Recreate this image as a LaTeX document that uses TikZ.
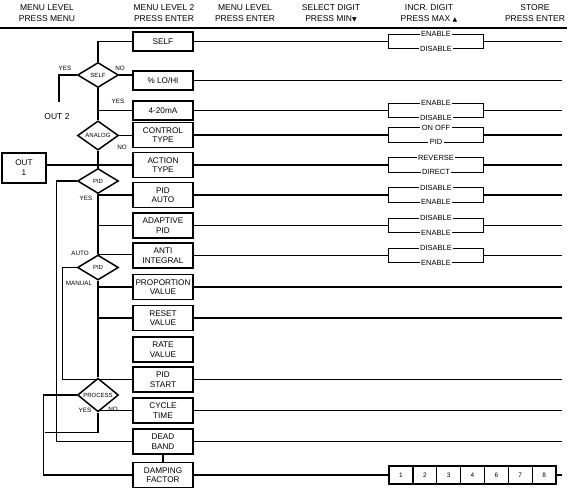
\documentclass[tikz,border=0pt]{standalone}
\usepackage{fontspec}
\setmainfont{Liberation Sans}
\newfontfamily\symfont{DejaVu Sans}
\usetikzlibrary{shapes.geometric}

\tikzset{
  menubox/.style={draw, line width=1.5pt, minimum width=60pt, minimum height=25pt, inner sep=0pt, align=center, font=\fontsize{8.2}{9.5}\selectfont},
  smallbox/.style={menubox, minimum height=19pt},
  decision/.style={draw, diamond, line width=1.5pt, minimum width=41pt, minimum height=25pt, inner sep=0pt, font=\fontsize{6}{6}\selectfont},
  head/.style={align=center, font=\fontsize{8.5}{11}\selectfont},
  tag/.style={inner sep=0pt, font=\fontsize{6.3}{7}\selectfont},
  option/.style={fill=white, inner sep=1.5pt, font=\fontsize{7.5}{8}\selectfont},
  choice/.style={minimum width=94pt, minimum height=14pt, inner sep=0pt},
  digit/.style={draw, line width=1.2pt, minimum width=23.9pt, minimum height=18pt, inner sep=0pt, font=\fontsize{6.5}{7}\selectfont},
  wire/.style={line width=1.25pt},
}

\begin{document}
\begin{tikzpicture}[x=1pt, y=-1pt]
\useasboundingbox (0,0) rectangle (568,494);

% column heads
\node[head] (h1) at (47,13.5) {MENU LEVEL\\PRESS MENU};
\node[head] (h2) at (164,13.5) {MENU LEVEL 2\\PRESS ENTER};
\node[head] (h3) at (245,13.5) {MENU LEVEL\\PRESS ENTER};
\node[head] (h4) at (331,13.5) {SELECT DIGIT\\PRESS MIN{\symfont\fontsize{6}{6}\selectfont ▼}};
\node[head] (h5) at (429,13.5) {INCR. DIGIT\\PRESS MAX {\symfont\fontsize{6}{6}\selectfont ▲}};
\node[head] (h6) at (535,13.5) {STORE\\PRESS ENTER};
\draw[line width=1.6pt] (0,28) -- (567,28);

% menu level 2
\node[smallbox] (self) at (163,41.5) {SELF};
\node[smallbox] (lohi) at (163,80.5) {\% LO/HI};
\node[smallbox] (ma) at (163,110.5) {4-20mA};
\node[menubox] (ctype) at (163,135) {CONTROL\\TYPE};
\node[menubox] (atype) at (163,165) {ACTION\\TYPE};
\node[menubox] (pauto) at (163,195) {PID\\AUTO};
\node[menubox] (adapt) at (163,225.5) {ADAPTIVE\\PID};
\node[menubox] (anti) at (163,255.5) {ANTI\\INTEGRAL};
\node[menubox] (prop) at (163,287) {PROPORTION\\VALUE};
\node[menubox] (reset) at (163,318) {RESET\\VALUE};
\node[menubox] (rate) at (163,349.5) {RATE\\VALUE};
\node[menubox] (start) at (163,379.5) {PID\\START};
\node[menubox] (cycle) at (163,410.5) {CYCLE\\TIME};
\node[menubox] (dead) at (163,441.5) {DEAD\\BAND};
\node[menubox] (damp) at (163,475) {DAMPING\\FACTOR};

% decisions
\node[decision] (selfd) at (98,75) {SELF};
\node[decision] (analog) at (98,135.5) {ANALOG};
\node[decision] (pid1) at (98,181) {PID};
\node[decision] (pid2) at (98,267.5) {PID};
\node[decision] (proc) at (98,395) {PROCESS};

\node[draw, line width=1.5pt, minimum width=44pt, minimum height=30pt, inner sep=0pt, align=center, font=\fontsize{8.2}{10}\selectfont] (out1) at (24,168) {OUT\\1};
\node[font=\fontsize{8.5}{9}\selectfont] (out2) at (57,117) {OUT 2};
\coordinate (o2) at (59,102);
\coordinate (rend) at (562,0);

\node[tag] (t1) at (65,68) {YES};
\node[tag] (t2) at (120,68) {NO};
\node[tag] (t3) at (118,101) {YES};
\node[tag] (t4) at (122,147) {NO};
\node[tag] (t5) at (86,198) {YES};
\node[tag] (t6) at (80,253) {AUTO};
\node[tag] (t7) at (79,283) {MANUAL};
\node[tag] (t8) at (85,410) {YES};
\node[tag] (t9) at (113,409) {NO};

% left side
\draw[wire] (self.west) -| (selfd.north);
\draw[wire] (selfd.west) -| (o2);
\draw[wire] (selfd.east) -- (selfd.east -| lohi.west);
\draw[wire] (selfd.south) -- (analog.north);
\draw[wire] (analog.north |- ma.west) -- (ma.west);
\draw[wire] (analog.east) -- (analog.east -| ctype.west);
\draw[wire] (analog.south) -- (pid1.north);
\draw[wire] (out1.east |- atype.west) -- (atype.west);
\draw[wire] (pid1.west) -- ++(-20,0) |- (dead.west);
\draw[wire] (pid1.south) -- (pid2.north);
\draw[wire] (pid1.south |- pauto.west) -- (pauto.west);
\draw[wire] (pid1.south |- adapt.west) -- (adapt.west);
\draw[wire] (pid2.north) -- (pid2.north -| anti.west);
\draw[wire] (pid2.west) -- ++(-14,0) |- (start.west);
\draw[wire] (pid2.south) -- (proc.north);
\draw[wire] (pid2.south |- prop.west) -- (prop.west);
\draw[wire] (pid2.south |- reset.west) -- (reset.west);
\draw[wire] (proc.west) -- ++(-33,0) |- (damp.west);
\draw[wire] (proc.south) -- ++(0,20) -- ++(-53,0);
\draw[wire] (proc.south |- cycle.west) -- (cycle.west);
\draw[wire] (dead.south) -- (damp.north);

% right side
\foreach \rw/\opta/\optb in {self/ENABLE/DISABLE, ma/ENABLE/DISABLE, ctype/ON OFF/PID, atype/REVERSE/DIRECT, pauto/DISABLE/ENABLE, adapt/DISABLE/ENABLE, anti/DISABLE/ENABLE}{
  \node[choice] (c\rw) at (436,0 |- \rw) {};
  \draw[wire] (c\rw.north west) rectangle (c\rw.south east);
  \node[option] (c\rw-a) at (c\rw.north) {\opta};
  \node[option] (c\rw-b) at (c\rw.south) {\optb};
  \draw[wire] (\rw.east) -- (c\rw.west);
  \draw[wire] (c\rw.east) -- (c\rw.east -| rend);
}
\foreach \rw in {lohi, prop, reset, start, cycle, dead}
  \draw[wire] (\rw.east) -- (\rw.east -| rend);

\foreach \i/\lab in {1/1, 2/2, 3/3, 4/4, 5/6, 6/7, 7/8}
  \node[digit] (d\i) at ({377.1+23.86*\i},475) {\lab};
\draw[wire] (damp.east) -- (d1.west);
\draw[wire] (d7.east) -- (d7.east -| rend);
\end{tikzpicture}
\end{document}
